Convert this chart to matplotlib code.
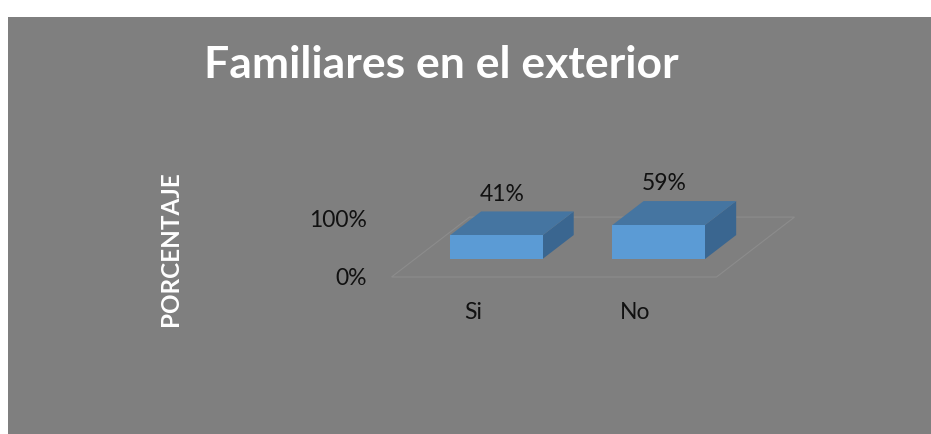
import matplotlib
matplotlib.use("Agg")
import matplotlib.pyplot as plt
from matplotlib.patches import Polygon, Rectangle

# Data
categories = ["Si", "No"]
values = [41, 59]            # percent
value_labels = ["41%", "59%"]
tick_values = [0, 100]
tick_labels = ["0%", "100%"]

title = "Familiares en el exterior"
ylabel = "PORCENTAJE"

# Oblique 3D geometry (data units: x = category, y = percent)
depth_vec = (0.48, 104.0)    # full floor depth offset
bar_z0, bar_z1 = 0.30, 0.70  # bar front/back as fraction of floor depth
bar_width = 0.57

front_c = "#5B9BD5"
top_c = "#4575A1"
side_c = "#3A6690"
bg_gray = "#7F7F7F"
floor_c = "#8C8C8C"

fig = plt.figure(figsize=(9.31, 4.34), dpi=100)
fig.patch.set_facecolor("white")

ax = fig.add_axes([0, 0, 1, 1])
ax.set_facecolor("none")
ax.set_xlim(-2.41, 3.32)
ax.set_ylim(-272.6, 480.9)
ax.axis("off")

# Gray chart area
ax.add_patch(Rectangle((8 / 931, 0), 1 - 8 / 931, 1 - 17 / 434,
                       transform=fig.transFigure, facecolor=bg_gray,
                       edgecolor="none", zorder=0))

dx, dy = depth_vec


def off(x, y, f):
    return (x + dx * f, y + dy * f)


# Floor outline
n = len(categories)
floor = [off(0, 0, 0), off(n, 0, 0), off(n, 0, 1), off(0, 0, 1)]
ax.add_patch(Polygon(floor, closed=True, facecolor="none",
                     edgecolor=floor_c, linewidth=0.8, zorder=1))

font = "Lato"
fs = 16.5

for i, (v, lab) in enumerate(zip(values, value_labels)):
    x0 = i + 0.5 - bar_width / 2
    x1 = i + 0.5 + bar_width / 2
    # front face
    front = [off(x0, 0, bar_z0), off(x1, 0, bar_z0), off(x1, v, bar_z0), off(x0, v, bar_z0)]
    # top face
    top = [off(x0, v, bar_z0), off(x1, v, bar_z0), off(x1, v, bar_z1), off(x0, v, bar_z1)]
    # right side face
    side = [off(x1, 0, bar_z0), off(x1, 0, bar_z1), off(x1, v, bar_z1), off(x1, v, bar_z0)]
    ax.add_patch(Polygon(side, closed=True, facecolor=side_c, edgecolor="none", zorder=3))
    ax.add_patch(Polygon(top, closed=True, facecolor=top_c, edgecolor="none", zorder=3))
    ax.add_patch(Polygon(front, closed=True, facecolor=front_c, edgecolor="none", zorder=4))
    # value label above bar
    lx = i + 0.5 + dx * bar_z0 + 0.035
    ly = v + dy * bar_z1 + 30
    ax.text(lx, ly, lab, ha="center", va="center", fontsize=fs,
            family=font, color="#111111", zorder=5)

# Category labels
for i, c in enumerate(categories):
    ax.text(i + 0.5, -61, c, ha="center", va="center", fontsize=fs,
            family=font, color="#111111")

# Y tick labels
for t, tl in zip(tick_values, tick_labels):
    ax.text(-0.154, t - 2, tl, ha="right", va="center", fontsize=fs,
            family=font, color="#111111")

# Title and axis title
ax.text(441 / 931, 1 - 65 / 434, title, transform=fig.transFigure,
        ha="center", va="center", fontsize=32, fontweight="bold",
        family=font, color="white")
ax.text(171 / 931, 1 - 249 / 434, ylabel, transform=fig.transFigure,
        ha="center", va="center", rotation=90, fontsize=17.5,
        fontweight="bold", family=font, color="white")

fig.savefig("out.png", dpi=100)
